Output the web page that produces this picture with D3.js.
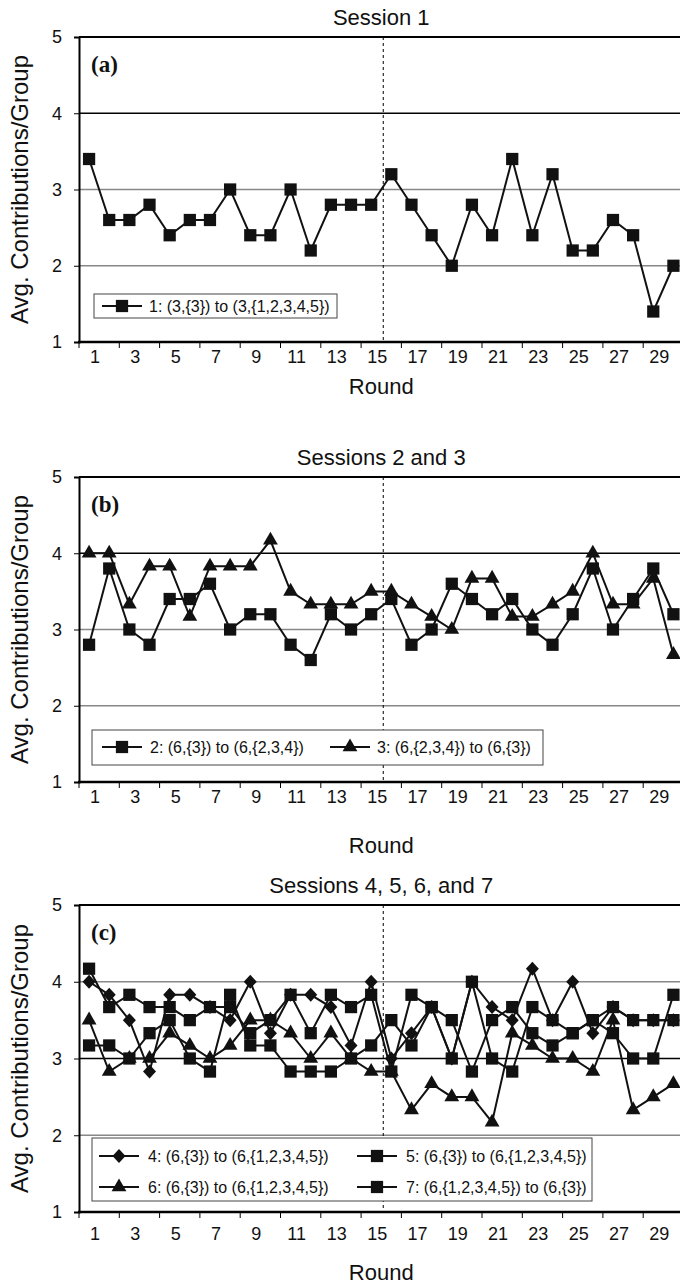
<!DOCTYPE html>
<html>
<head>
<meta charset="utf-8">
<script src="https://cdn.jsdelivr.net/npm/d3@7"></script>
<style>
  body { margin: 0; background: #fff; }
  svg text { font-family: "Liberation Sans", Arial, sans-serif; fill: #111; }
</style>
</head>
<body>
<svg id="chart" width="680" height="1285"></svg>
<script>
// data (avg contribution per group, rounds 1..30)
var rounds = d3.range(1, 31);
var xTickLabels = [1, 3, 5, 7, 9, 11, 13, 15, 17, 19, 21, 23, 25, 27, 29];
var yTickLabels = [1, 2, 3, 4, 5];

var session1 = [3.4, 2.6, 2.6, 2.8, 2.4, 2.6, 2.6, 3.0, 2.4, 2.4, 3.0, 2.2, 2.8, 2.8, 2.8,
  3.2, 2.8, 2.4, 2.0, 2.8, 2.4, 3.4, 2.4, 3.2, 2.2, 2.2, 2.6, 2.4, 1.4, 2.0];

var session2 = [2.8, 3.8, 3.0, 2.8, 3.4, 3.4, 3.6, 3.0, 3.2, 3.2, 2.8, 2.6, 3.2, 3.0, 3.2,
  3.4, 2.8, 3.0, 3.6, 3.4, 3.2, 3.4, 3.0, 2.8, 3.2, 3.8, 3.0, 3.4, 3.8, 3.2];
var session3 = [4.0, 4.0, 3.33, 3.83, 3.83, 3.17, 3.83, 3.83, 3.83, 4.17, 3.5, 3.33, 3.33, 3.33, 3.5,
  3.5, 3.33, 3.17, 3.0, 3.67, 3.67, 3.17, 3.17, 3.33, 3.5, 4.0, 3.33, 3.33, 3.67, 2.67];

var session4 = [4.0, 3.83, 3.5, 2.83, 3.83, 3.83, 3.67, 3.5, 4.0, 3.33, 3.83, 3.83, 3.67, 3.17, 4.0,
  3.0, 3.33, 3.67, 3.0, 4.0, 3.67, 3.5, 4.17, 3.5, 4.0, 3.33, 3.67, 3.5, 3.5, 3.5];
var session5 = [4.17, 3.67, 3.83, 3.67, 3.67, 3.5, 3.67, 3.67, 3.33, 3.5, 3.83, 3.33, 3.83, 3.67, 3.83,
  2.83, 3.83, 3.67, 3.5, 2.83, 3.5, 3.67, 3.33, 3.17, 3.33, 3.5, 3.33, 3.0, 3.0, 3.83];
var session6 = [3.5, 2.83, 3.0, 3.0, 3.33, 3.17, 3.0, 3.17, 3.5, 3.5, 3.33, 3.0, 3.33, 3.0, 2.83,
  2.83, 2.33, 2.67, 2.5, 2.5, 2.17, 3.33, 3.17, 3.0, 3.0, 2.83, 3.5, 2.33, 2.5, 2.67];
var session7 = [3.17, 3.17, 3.0, 3.33, 3.5, 3.0, 2.83, 3.83, 3.17, 3.17, 2.83, 2.83, 2.83, 3.0, 3.17,
  3.5, 3.17, 3.67, 3.0, 4.0, 3.0, 2.83, 3.67, 3.5, 3.33, 3.5, 3.67, 3.5, 3.5, 3.5];

var titles = ["Session 1", "Sessions 2 and 3", "Sessions 4, 5, 6, and 7"];
var tags = ["(a)", "(b)", "(c)"];
var legendNames = [
  ["1: (3,{3}) to (3,{1,2,3,4,5})"],
  ["2: (6,{3}) to (6,{2,3,4})", "3: (6,{2,3,4}) to (6,{3})"],
  ["4: (6,{3}) to (6,{1,2,3,4,5})", "5: (6,{3}) to (6,{1,2,3,4,5})",
   "6: (6,{3}) to (6,{1,2,3,4,5})", "7: (6,{1,2,3,4,5}) to (6,{3})"]
];

// layout
var panels = [
  { top: 37, bottom: 342, labelY: 15, roundY: 394,
    series: [{ values: session1, mark: "square" }],
    grid: { 4: "#000", 3: "#888", 2: "#888" },
    legend: { x: 94, y: 294, w: 243, h: 24,
      items: [{ lx: 102, ly: 306, tx: 149 }] } },
  { top: 477, bottom: 782, labelY: 15, roundY: 853,
    series: [{ values: session2, mark: "square" }, { values: session3, mark: "triangle" }],
    grid: { 4: "#000", 3: "#888", 2: "#888" },
    legend: { x: 92, y: 730, w: 451, h: 35,
      items: [{ lx: 102, ly: 747, tx: 150 }, { lx: 330, ly: 747, tx: 377 }] } },
  { top: 905, bottom: 1212, labelY: 22, roundY: 1280,
    series: [{ values: session4, mark: "diamond" }, { values: session5, mark: "square" },
             { values: session6, mark: "triangle" }, { values: session7, mark: "square" }],
    grid: { 4: "#888", 3: "#000", 2: "#888" },
    legend: { x: 92, y: 1138, w: 500, h: 63,
      items: [{ lx: 99, ly: 1156, tx: 148 }, { lx: 357, ly: 1156, tx: 406 },
              { lx: 99, ly: 1187, tx: 148 }, { lx: 357, ly: 1187, tx: 406 }] } }
];

var svg = d3.select("#chart");
var ink = "#111";

var x = d3.scaleLinear().domain([0.5, 30.5]).range([79, 683.5]);

var marks = {
  square: d3.symbol(d3.symbolSquare, 150)(),
  triangle: d3.symbol(d3.symbolTriangle, 95)(),
  diamond: "M0,-7L6.5,0L0,7L-6.5,0Z"
};

panels.forEach(function (p, pi) {
  var y = d3.scaleLinear().domain([1, 5]).range([p.bottom, p.top]);
  var g = svg.append("g");

  // horizontal gridlines
  [2, 3, 4].forEach(function (v) {
    g.append("line")
      .attr("x1", x.range()[0]).attr("x2", x.range()[1])
      .attr("y1", y(v)).attr("y2", y(v))
      .attr("stroke", p.grid[v]).attr("stroke-width", 1.3);
  });
  // top border
  g.append("line")
    .attr("x1", x.range()[0]).attr("x2", x.range()[1])
    .attr("y1", y(5)).attr("y2", y(5))
    .attr("stroke", "#000").attr("stroke-width", 2);

  // session switch line between rounds 15 and 16
  g.append("line")
    .attr("x1", x(15.6)).attr("x2", x(15.6))
    .attr("y1", y(5)).attr("y2", y(1))
    .attr("stroke", "#000").attr("stroke-width", 1)
    .attr("stroke-dasharray", "3,3");

  // y axis
  var yAxis = d3.axisLeft(y).tickValues(yTickLabels).tickFormat(d3.format("d"))
    .tickSize(5).tickPadding(12);
  var ya = g.append("g").attr("transform", "translate(" + x.range()[0] + ",0)").call(yAxis);
  ya.select(".domain").attr("stroke", "#000").attr("stroke-width", 2);
  ya.selectAll(".tick line").attr("stroke", "#000");
  ya.selectAll("text").style("font-size", "18px").attr("fill", ink).attr("font-family", null);

  // x axis: ticks at every second category boundary, labels on odd rounds
  var xa = g.append("g").attr("transform", "translate(0," + y(1) + ")");
  xa.append("line")
    .attr("x1", x.range()[0] - 1).attr("x2", x.range()[1])
    .attr("stroke", "#000").attr("stroke-width", 2.5);
  xa.selectAll(".xt").data(d3.range(0.5, 31, 2)).enter().append("line")
    .attr("x1", function (d) { return x(d); }).attr("x2", function (d) { return x(d); })
    .attr("y1", 0).attr("y2", 6)
    .attr("stroke", "#000").attr("stroke-width", 1);
  xa.selectAll(".xl").data(xTickLabels).enter().append("text")
    .attr("x", function (d) { return x(d) + 6; })
    .attr("y", p.labelY)
    .attr("dy", "0.35em")
    .attr("text-anchor", "middle")
    .style("font-size", "18px")
    .text(function (d) { return d; });

  // titles
  g.append("text")
    .attr("x", (x.range()[0] + x.range()[1]) / 2).attr("y", p.top - 12)
    .attr("text-anchor", "middle").style("font-size", "22px")
    .text(titles[pi]);
  g.append("text")
    .attr("x", (x.range()[0] + x.range()[1]) / 2).attr("y", p.roundY)
    .attr("text-anchor", "middle").style("font-size", "22px")
    .text("Round");
  g.append("text")
    .attr("transform", "translate(28," + (p.top + p.bottom) / 2 + ") rotate(-90)")
    .attr("text-anchor", "middle").style("font-size", "24px")
    .text("Avg. Contributions/Group");
  g.append("text")
    .attr("x", 91).attr("y", p.top + 35)
    .style("font-family", "'Liberation Serif', 'Times New Roman', serif")
    .style("font-weight", "bold").style("font-size", "23px")
    .text(tags[pi]);

  // series
  var line = d3.line()
    .x(function (d, i) { return x(rounds[i]); })
    .y(function (d) { return y(d); });

  p.series.forEach(function (s) {
    g.append("path")
      .attr("d", line(s.values))
      .attr("fill", "none").attr("stroke", ink).attr("stroke-width", 2);
    g.selectAll(null).data(s.values).enter().append("path")
      .attr("d", marks[s.mark])
      .attr("transform", function (d, i) { return "translate(" + x(rounds[i]) + "," + y(d) + ")"; })
      .attr("fill", ink);
  });

  // legend
  var L = p.legend;
  g.append("rect")
    .attr("x", L.x).attr("y", L.y).attr("width", L.w).attr("height", L.h)
    .attr("fill", "#fff").attr("stroke", "#444").attr("stroke-width", 1);
  L.items.forEach(function (it, i) {
    var s = p.series[i];
    g.append("line")
      .attr("x1", it.lx).attr("x2", it.lx + 40)
      .attr("y1", it.ly).attr("y2", it.ly)
      .attr("stroke", ink).attr("stroke-width", 2);
    g.append("path")
      .attr("d", marks[s.mark])
      .attr("transform", "translate(" + (it.lx + 20) + "," + it.ly + ")")
      .attr("fill", ink);
    g.append("text")
      .attr("x", it.tx).attr("y", it.ly).attr("dy", "0.35em")
      .style("font-size", "16px")
      .text(legendNames[pi][i]);
  });
});
</script>
</body>
</html>
